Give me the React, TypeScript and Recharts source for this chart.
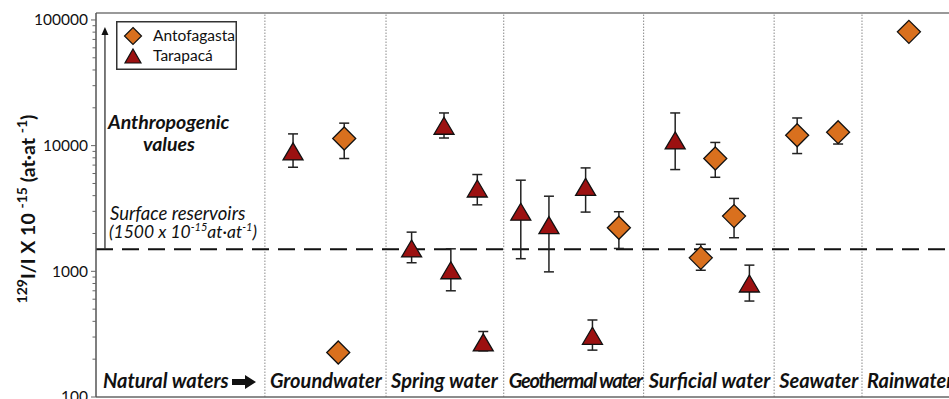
import React from 'react';
import {
  ScatterChart,
  Scatter,
  XAxis,
  YAxis,
  ErrorBar,
  ReferenceLine,
  Legend,
} from 'recharts';

const FONT = 'Lato, "Open Sans", "DejaVu Sans", sans-serif';
const ORANGE = '#D9701E';
const RED = '#9C1111';
const INK = '#111';

// Sample track along the x axis (0–100); each section starts at the given position
const sectionStarts = [0, 19.8, 34.0, 47.8, 64.2, 79.5, 89.8];
const sectionNames = [
  'Natural waters',
  'Groundwater',
  'Spring water',
  'Geothermal water',
  'Surficial water',
  'Seawater',
  'Rainwater',
];

// 129I/I ratios (x 10^-15 at·at^-1)
const Y_MIN = 100;
const Y_MAX = 113600;
const SURFACE_RESERVOIR = 1500;
const ANTHROPOGENIC_TOP = 87700;
const ARROW_X = 1.05;
const yMajorTicks = [100, 1000, 10000, 100000];
const yMinorTicks = [
  200, 300, 400, 500, 600, 700, 800, 900,
  2000, 3000, 4000, 5000, 6000, 7000, 8000, 9000,
  20000, 30000, 40000, 50000, 60000, 70000, 80000, 90000,
];

// Antofagasta samples
const antoX = [29.1, 28.4, 61.3, 70.9, 72.6, 74.8, 82.2, 87.0, 95.3];
const antoValue = [11400, 226, 2220, 1280, 7900, 2750, 12100, 12800, 80400];
const antoLow = [7900, 226, 1520, 1020, 5600, 1850, 8650, 10300, 80400];
const antoHigh = [15100, 226, 2980, 1640, 10600, 3800, 16600, 13300, 80400];

// Tarapacá samples
const taraX = [23.1, 37.0, 40.8, 41.6, 44.7, 45.4, 49.8, 53.1, 57.4, 58.2, 67.9, 76.6];
const taraValue = [9000, 1520, 14400, 1020, 4560, 272, 2980, 2330, 4700, 307, 11000, 800];
const taraLow = [6730, 1170, 11500, 700, 3380, 233, 1260, 990, 2960, 236, 6450, 580];
const taraHigh = [12400, 2050, 18200, 1510, 5890, 332, 5310, 3960, 6650, 410, 18200, 1120];

const buildSeries = (xs: number[], vs: number[], lo: number[], hi: number[]) =>
  xs.map((x, i) => ({ x, y: vs[i], err: [vs[i] - lo[i], hi[i] - vs[i]] }));

const antofagasta = buildSeries(antoX, antoValue, antoLow, antoHigh);
const tarapaca = buildSeries(taraX, taraValue, taraLow, taraHigh);

const diamondPath = (cx: number, cy: number) =>
  `M${cx},${cy - 11.5}L${cx + 11.5},${cy}L${cx},${cy + 11.5}L${cx - 11.5},${cy}Z`;
const trianglePath = (cx: number, cy: number) =>
  `M${cx},${cy - 8.5}L${cx + 10},${cy + 8.5}L${cx - 10},${cy + 8.5}Z`;

const Diamond = (props: any) => {
  const { cx, cy } = props;
  if (cx == null || cy == null) return <g />;
  return <path d={diamondPath(cx, cy)} fill={ORANGE} stroke={INK} strokeWidth={1.3} />;
};

const Triangle = (props: any) => {
  const { cx, cy } = props;
  if (cx == null || cy == null) return <g />;
  return <path d={trianglePath(cx, cy)} fill={RED} stroke={INK} strokeWidth={1.3} />;
};

const ValueTick = (props: any) => {
  const { x, y, payload } = props;
  const major = yMajorTicks.includes(payload.value);
  return (
    <g>
      <line x1={x - (major ? 5 : 3.5)} x2={x} y1={y} y2={y} stroke="#666" strokeWidth={1} />
      {major && (
        <text
          x={x - 8}
          y={y}
          dy="0.35em"
          textAnchor="end"
          fontFamily={FONT}
          fontSize={15.5}
          fill={INK}
        >
          {payload.value}
        </text>
      )}
    </g>
  );
};

const SectionTick = (props: any) => {
  const { x, y, payload } = props;
  const idx = sectionStarts.indexOf(payload.value);
  if (idx < 0) return <g />;
  const name = sectionNames[idx];
  const base = y - 9;
  const common = {
    y: base,
    fontFamily: FONT,
    fontSize: 20,
    fontWeight: 700,
    fontStyle: 'italic' as const,
    fill: INK,
  };
  if (idx === 0) {
    const ax = x + 136;
    const ay = base - 6;
    return (
      <g>
        <text x={x + 7} {...common}>{name}</text>
        <path
          d={`M${ax},${ay - 3}L${ax + 13},${ay - 3}L${ax + 13},${ay - 7}L${ax + 24},${ay}L${ax + 13},${ay + 7}L${ax + 13},${ay + 3}L${ax},${ay + 3}Z`}
          fill={INK}
        />
      </g>
    );
  }
  if (name === 'Geothermal water') {
    // this label is set tighter so it fits its section
    return (
      <text x={x + 5} {...common} letterSpacing={-1.22}>
        {name}
      </text>
    );
  }
  return <text x={x + 5} {...common}>{name}</text>;
};

const AxisTitle = (props: any) => {
  const { viewBox } = props;
  const bx = viewBox.x + 35;
  const cy = viewBox.y + viewBox.height / 2 + 4;
  return (
    <text
      transform={`translate(${bx},${cy}) rotate(-90)`}
      textAnchor="middle"
      fontFamily={FONT}
      fontWeight={700}
      fontSize={19.5}
      fill={INK}
    >
      <tspan fontSize={14} dy={-8}>129</tspan>
      <tspan dy={8}>I/I X 10 </tspan>
      <tspan fontSize={14} dy={-8}>-15</tspan>
      <tspan dy={8}> (at·at </tspan>
      <tspan fontSize={14} dy={-8}>-1</tspan>
      <tspan dy={8}>)</tspan>
    </text>
  );
};

// Upward arrow marking the anthropogenic range, with its caption
const AnthropogenicArrow = (props: any) => {
  const { x1, y1, y2 } = props;
  const x = x1;
  const bottom = Math.max(y1, y2);
  const top = Math.min(y1, y2);
  const caption = {
    fontFamily: FONT,
    fontSize: 19.5,
    fontWeight: 700,
    fontStyle: 'italic' as const,
    fill: INK,
  };
  return (
    <g>
      <line x1={x} x2={x} y1={bottom} y2={top + 6} stroke="#333" strokeWidth={1.3} />
      <path d={`M${x - 3.5},${top + 8}L${x},${top}L${x + 3.5},${top + 8}Z`} fill={INK} />
      <text x={x + 3} y={bottom - 120} {...caption}>
        Anthropogenic
      </text>
      <text x={x + 38} y={bottom - 98} {...caption}>
        values
      </text>
    </g>
  );
};

const ReservoirLine = (props: any) => {
  const { x1, y1, x2, y2 } = props;
  const left = Math.min(x1, x2);
  const note = {
    fontFamily: FONT,
    fontStyle: 'italic' as const,
    fill: INK,
  };
  return (
    <g>
      <line
        x1={x1}
        x2={x2}
        y1={y1}
        y2={y2}
        stroke={INK}
        strokeWidth={2}
        strokeDasharray="17 9"
      />
      <text x={left + 14} y={y1 - 29} fontSize={18.5} {...note}>
        Surface reservoirs
      </text>
      <text x={left + 13} y={y1 - 11} fontSize={17.5} {...note}>
        <tspan>(1500 x 10</tspan>
        <tspan fontSize={11} dy={-7}>-15</tspan>
        <tspan dy={7}>at·at</tspan>
        <tspan fontSize={11} dy={-7}>-1</tspan>
        <tspan dy={7}>)</tspan>
      </text>
    </g>
  );
};

const LegendBox = () => (
  <svg width={121} height={49} style={{ display: 'block' }}>
    <rect x={0.75} y={0.75} width={119.5} height={47.5} fill="#fff" stroke="#333" strokeWidth={1.5} />
    <path d={`M17,${15 - 8.5}L25.5,15L17,${15 + 8.5}L8.5,15Z`} fill={ORANGE} stroke={INK} strokeWidth={1.2} />
    <text x={37} y={15} dy="0.35em" fontFamily={FONT} fontSize={15.5} fill={INK}>
      Antofagasta
    </text>
    <path d={`M17,${35 - 7}L25,${35 + 7}L9,${35 + 7}Z`} fill={RED} stroke={INK} strokeWidth={1.2} />
    <text x={37} y={35} dy="0.35em" fontFamily={FONT} fontSize={15.5} fill={INK}>
      Tarapacá
    </text>
  </svg>
);

export default function App() {
  return (
    <div
      style={{
        position: 'fixed',
        left: 0,
        top: 0,
        width: 949,
        height: 399,
        background: '#fff',
        overflow: 'hidden',
      }}
    >
      <ScatterChart
        width={949}
        height={399}
        margin={{ top: 13, right: 0, bottom: 0, left: 0 }}
        style={{ background: '#fff' }}
      >
        <XAxis
          type="number"
          dataKey="x"
          domain={[0, 100]}
          ticks={sectionStarts}
          interval={0}
          allowDataOverflow
          height={2}
          tickLine={false}
          tickSize={0}
          tickMargin={0}
          axisLine={{ stroke: '#666', strokeWidth: 1.5 }}
          tick={<SectionTick />}
        />
        <YAxis
          type="number"
          dataKey="y"
          scale="log"
          domain={[Y_MIN, Y_MAX]}
          ticks={[...yMajorTicks, ...yMinorTicks].sort((a, b) => a - b)}
          interval={0}
          allowDataOverflow
          width={96}
          tickLine={false}
          tickSize={0}
          tickMargin={0}
          axisLine={{ stroke: '#555', strokeWidth: 1.5 }}
          tick={<ValueTick />}
          label={<AxisTitle />}
        />
        <ReferenceLine y={Y_MAX} stroke="#777" strokeWidth={1.5} />
        {sectionStarts.slice(1).map((s) => (
          <ReferenceLine key={s} x={s} stroke="#8a8a8a" strokeWidth={1} strokeDasharray="1.5 1.5" />
        ))}
        <ReferenceLine y={SURFACE_RESERVOIR} shape={<ReservoirLine />} />
        <ReferenceLine
          segment={[
            { x: ARROW_X, y: SURFACE_RESERVOIR },
            { x: ARROW_X, y: ANTHROPOGENIC_TOP },
          ]}
          shape={<AnthropogenicArrow />}
        />
        <Legend
          layout="horizontal"
          verticalAlign="middle"
          align="center"
          wrapperStyle={{ left: 116, top: 21, width: 121, height: 49 }}
          content={() => <LegendBox />}
        />
        <Scatter
          name="Antofagasta"
          data={antofagasta}
          shape={<Diamond />}
          isAnimationActive={false}
        >
          <ErrorBar dataKey="err" direction="y" width={5} stroke="#222" strokeWidth={1.5} />
        </Scatter>
        <Scatter
          name="Tarapacá"
          data={tarapaca}
          shape={<Triangle />}
          isAnimationActive={false}
        >
          <ErrorBar dataKey="err" direction="y" width={5} stroke="#222" strokeWidth={1.5} />
        </Scatter>
      </ScatterChart>
    </div>
  );
}
